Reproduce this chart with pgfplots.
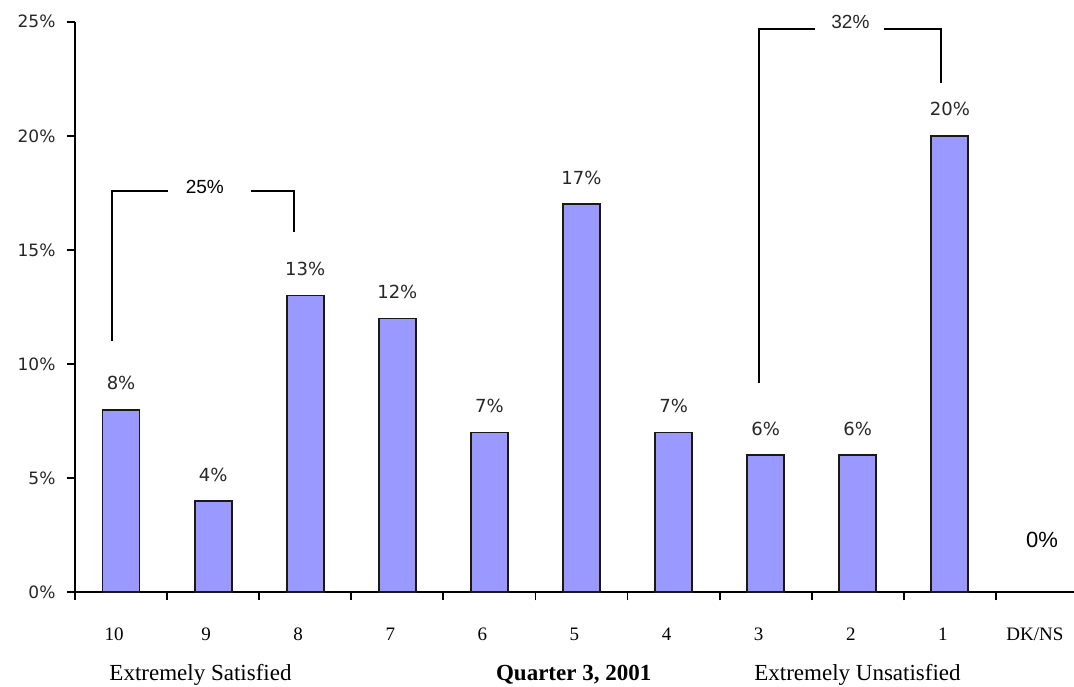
\documentclass[border=0pt]{standalone}
\usepackage{fontspec}
\setmainfont{Liberation Serif}
\newfontfamily\dejavu{DejaVu Sans}
\newfontfamily\arial{Liberation Sans}
\usepackage{pgfplots}
\pgfplotsset{compat=1.18}
\definecolor{barblue}{HTML}{9999FF}

\begin{document}
\begin{tikzpicture}
\begin{axis}[
  at={(75pt,93.7pt)}, anchor=south west,
  scale only axis, width=1013pt, height=570.6pt,
  xmin=-0.5, xmax=10.5, ymin=0, ymax=25,
  axis x line=bottom, axis y line=left,
  axis line style={-, line width=1.8pt},
  tick align=outside, major tick length=8pt, minor tick length=8pt,
  tick style={black, line width=1.8pt},
  xtick={0,...,10},
  xticklabels={10,9,8,7,6,5,4,3,2,1,DK/NS},
  major x tick style={draw=none},
  minor xtick={-0.5,0.5,...,10.5},
  ytick={0,5,...,25},
  yticklabels={0\%,5\%,10\%,15\%,20\%,25\%},
  xticklabel style={font=\fontsize{19}{22}\selectfont, anchor=base, yshift=-40pt, xshift=-7pt},
  yticklabel style={font=\dejavu\fontsize{17}{20}\selectfont, text=black!85, xshift=-8pt},
  ybar, bar width=37pt,
  clip=false,
]
\addplot[fill=barblue, draw=black!90, line width=1.8pt, bar shift=0pt,
  nodes near coords={\pgfmathprintnumber[assume math mode=true]{\pgfplotspointmeta}\%},
  every node near coord/.append style={font=\dejavu\fontsize{18}{21}\selectfont, text=black!85, anchor=center, yshift=26.5pt}]
  coordinates {(0,8) (1,4) (2,13) (3,12) (4,7) (5,17) (6,7) (7,6) (8,6) (9,20)};
\addplot[draw=none, fill=none, bar shift=0pt,
  nodes near coords={\pgfmathprintnumber[assume math mode=true]{\pgfplotspointmeta}\%},
  every node near coord/.append style={font=\arial\fontsize{22}{26}\selectfont, text=black, anchor=center, yshift=52.8pt}]
  coordinates {(10,0)};
% brackets
\draw[line width=1.8pt] (axis cs:-0.1,11.03) -- (axis cs:-0.1,17.59) -- (axis cs:0.507,17.59);
\draw[line width=1.8pt] (axis cs:1.41,17.59) -- (axis cs:1.875,17.59) -- (axis cs:1.875,15.8);
\node[font=\arial\fontsize{19}{22}\selectfont] at (axis cs:0.91,17.77) {25\%};
\draw[line width=1.8pt] (axis cs:6.93,9.17) -- (axis cs:6.93,24.67) -- (axis cs:7.54,24.67);
\draw[line width=1.8pt] (axis cs:8.29,24.67) -- (axis cs:8.90,24.67) -- (axis cs:8.90,22.3);
\node[font=\arial\fontsize{19}{22}\selectfont, text=black!85] at (axis cs:7.92,25.0) {32\%};
\end{axis}
\node[anchor=base, font=\fontsize{23}{27}\selectfont] at (200.5pt,5.3pt) {Extremely Satisfied};
\node[anchor=base, font=\bfseries\fontsize{23}{27}\selectfont] at (573.7pt,5.3pt) {Quarter 3, 2001};
\node[anchor=base, font=\fontsize{23}{27}\selectfont] at (857.5pt,5.3pt) {Extremely Unsatisfied};
\pgfresetboundingbox
\path[use as bounding box] (0pt,0pt) rectangle (1074pt,686pt);
\end{tikzpicture}
\end{document}
